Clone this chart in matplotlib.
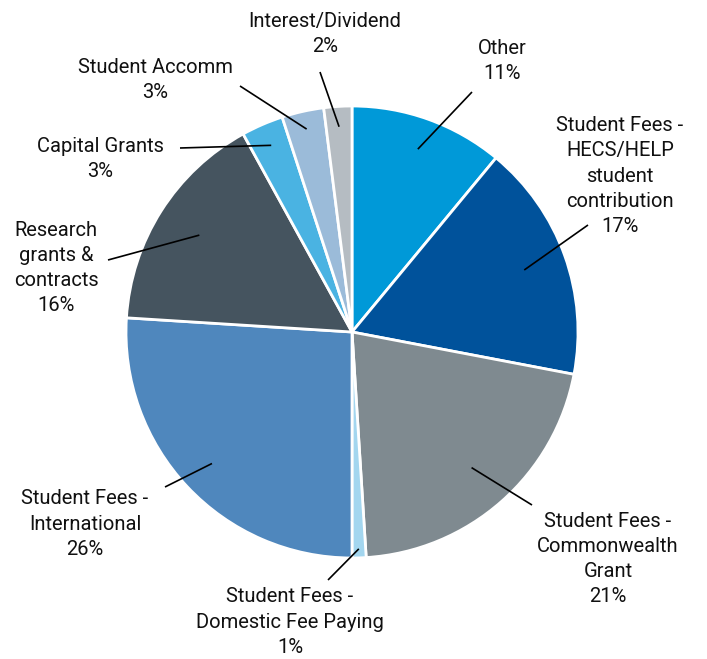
import numpy as np
import matplotlib
matplotlib.use("Agg")
import matplotlib.pyplot as plt

# data, clockwise from 12 o'clock
labels = ["Other", "Student Fees -\nHECS/HELP\nstudent\ncontribution",
          "Student Fees -\nCommonwealth\nGrant", "Student Fees -\nDomestic Fee Paying",
          "Student Fees -\nInternational", "Research\ngrants &\ncontracts",
          "Capital Grants", "Student Accomm", "Interest/Dividend"]
values = [11, 17, 21, 1, 26, 16, 3, 3, 2]
colors = ["#0099d8", "#00529b", "#7f8a90", "#a3d6ef", "#4f87bd",
          "#45545f", "#4ab3e2", "#9bbbd9", "#b5bcc2"]

# layout (pixel coords, y down): label centre, leader outer end, leader inner radius
label_pos = [(502, 61), (620, 176), (608, 559), (290, 622), (85, 524),
             (56, 268), (100, 159), (155, 80), (325, 34)]
line_out = [(472, 92), (588, 225), (532, 505), (328, 580), (165, 487),
            (108, 260), (180, 148), (240, 86), (320, 72)]
line_r = [0.86, 0.81, 0.80, 0.96, 0.85, 0.80, 0.90, 0.92, 0.91]

W, H = 707, 659
cx, cy, R = 352, 332, 226

plt.rcParams['font.family'] = ['Roboto', 'DejaVu Sans']
fig = plt.figure(figsize=(W / 100, H / 100), dpi=100)
ax = fig.add_axes([0, 0, 1, 1])
ax.axis('off')

wedges, _ = ax.pie(values, colors=colors, startangle=90, counterclock=False,
                   center=(cx, H - cy), radius=R,
                   wedgeprops=dict(edgecolor='white', linewidth=2))
ax.set_xlim(0, W)
ax.set_ylim(0, H)
ax.set_aspect('equal')

total = sum(values)
cum = 0
for i, v in enumerate(values):
    mid = 90 - 360 * (cum + v / 2) / total
    cum += v
    r = line_r[i] * R
    x0 = cx + r * np.cos(np.radians(mid))
    y0 = (H - cy) + r * np.sin(np.radians(mid))
    x1, y1 = line_out[i]
    ax.plot([x0, x1], [y0, H - y1], color='black', lw=1.2, solid_capstyle='butt')
    lx, ly = label_pos[i]
    ax.text(lx, H - ly, f"{labels[i]}\n{v}%", ha='center', va='center',
            fontsize=14.5, linespacing=1.42, color='#111111')

fig.savefig("out.png", dpi=100)
